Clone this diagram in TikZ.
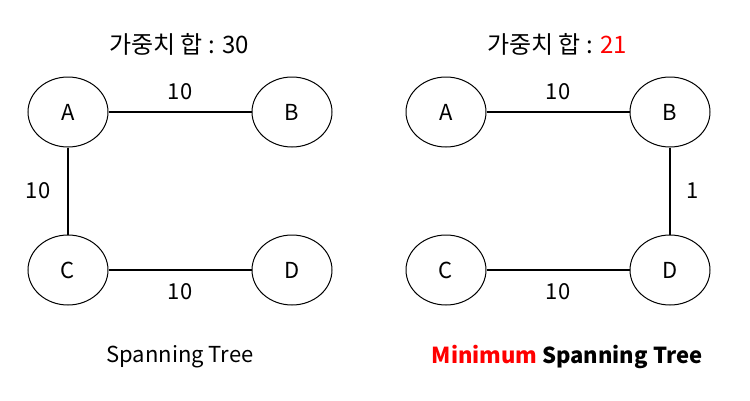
\documentclass[tikz,border=0pt]{standalone}
\usepackage{fontspec}
\setmainfont{Noto Sans CJK KR}
\usepackage{xcolor}
\usetikzlibrary{positioning,shapes.geometric}
\definecolor{mstred}{HTML}{FF0000}

\begin{document}
\begin{tikzpicture}[x=1pt, y=-1pt,
  vertex/.style={ellipse, draw, line width=1pt, minimum width=80pt, minimum height=70pt, inner sep=0pt, font=\fontsize{22}{26}\selectfont},
  edge/.style={line width=1.2pt},
  wlab/.style={font=\fontsize{22}{26}\selectfont, inner sep=0pt},
  captext/.style={font=\fontsize{22}{26}\selectfont},
  sumtext/.style={font=\fontsize{24}{28}\selectfont}
]
  \useasboundingbox (0, 0) rectangle (750, 400);

  % Left: spanning tree
  \node[sumtext] (sumL) at (179, 44) {가중치 합 : 30};
  \node[vertex] (lA) at (68, 112) {A};
  \node[vertex] (lB) at (292, 112) {B};
  \node[vertex] (lC) at (68, 270) {C};
  \node[vertex] (lD) at (292, 270) {D};
  \draw[edge] (lA) -- (lB) node[wlab, midway, above=12pt] (wlAB) {10};
  \draw[edge] (lA) -- (lC) node[wlab, midway, left=17pt] (wlAC) {10};
  \draw[edge] (lC) -- (lD) node[wlab, midway, below=13pt] (wlCD) {10};
  \node[captext] (capL) at (180, 357) {Spanning Tree};

  % Right: minimum spanning tree
  \node[sumtext] (sumR) at (557, 44) {가중치 합 : \textcolor{mstred}{21}};
  \node[vertex] (rA) at (446, 112) {A};
  \node[vertex] (rB) at (670, 112) {B};
  \node[vertex] (rC) at (446, 270) {C};
  \node[vertex] (rD) at (670, 270) {D};
  \draw[edge] (rA) -- (rB) node[wlab, midway, above=12pt] (wrAB) {10};
  \draw[edge] (rB) -- (rD) node[wlab, midway, right=16pt] (wrBD) {1};
  \draw[edge] (rC) -- (rD) node[wlab, midway, below=13pt] (wrCD) {10};
  \node[captext, font=\fontsize{22}{26}\selectfont\bfseries] (capR) at (567, 357) {\textcolor{mstred}{Minimum} Spanning Tree};

\end{tikzpicture}
\end{document}
